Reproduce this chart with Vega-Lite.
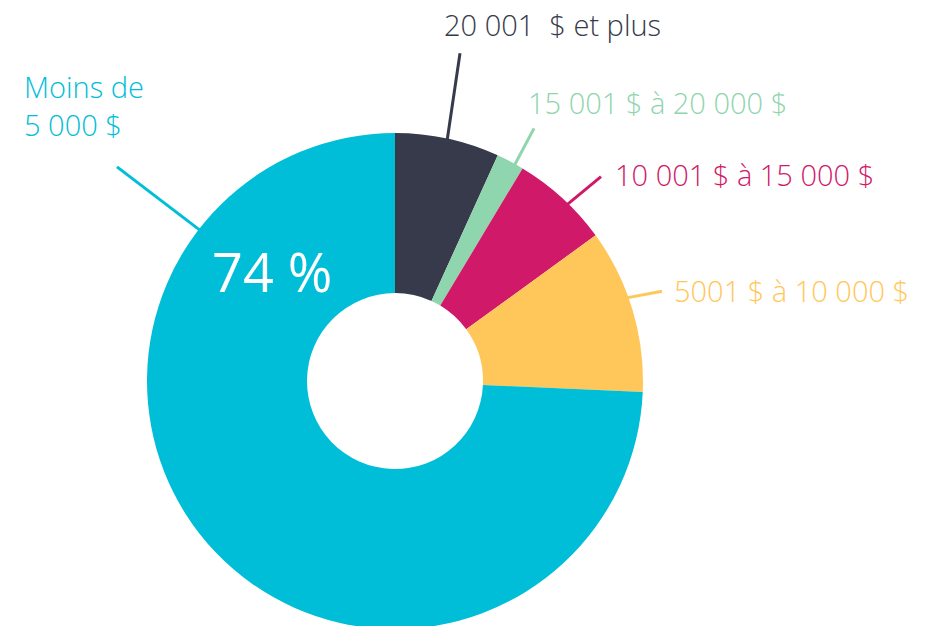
{
  "$schema": "https://vega.github.io/schema/vega-lite/v6.json",
  "width": 932,
  "height": 626,
  "autosize": {"type": "fit", "contains": "padding"},
  "padding": 0,
  "background": "white",
  "config": {"view": {"stroke": null}},
  "datasets": {
    "slices": [
      {"cat": "20 001 $ et plus", "value": 6.8, "ord": 1},
      {"cat": "15 001 $ à 20 000 $", "value": 1.8, "ord": 2},
      {"cat": "10 001 $ à 15 000 $", "value": 6.4, "ord": 3},
      {"cat": "5001 $ à 10 000 $", "value": 10.7, "ord": 4},
      {"cat": "Moins de 5 000 $", "value": 74.3, "ord": 5}
    ],
    "labels": [
      {"cat": "20 001 $ et plus", "label": "20 001\u00a0 $ et plus", "lx": 49, "ly": 350},
      {"cat": "15 001 $ à 20 000 $", "label": "15 001 $ à 20 000 $", "lx": 133, "ly": 271},
      {"cat": "10 001 $ à 15 000 $", "label": "10 001 $ à 15 000 $", "lx": 220, "ly": 198},
      {"cat": "5001 $ à 10 000 $", "label": "5001 $ à 10 000 $", "lx": 279, "ly": 80},
      {"cat": "Moins de 5 000 $", "label": "Moins de|5 000 $", "lx": -371, "ly": 287}
    ],
    "leaders": [
      {"cat": "20 001 $ et plus", "x1": 65, "y1": 332, "x2": 51, "y2": 236},
      {"cat": "15 001 $ à 20 000 $", "x1": 139, "y1": 256, "x2": 116, "y2": 212},
      {"cat": "10 001 $ à 15 000 $", "x1": 206, "y1": 207, "x2": 170, "y2": 177},
      {"cat": "5001 $ à 10 000 $", "x1": 267, "y1": 91, "x2": 225, "y2": 83},
      {"cat": "Moins de 5 000 $", "x1": -278, "y1": 217, "x2": -185, "y2": 145}
    ],
    "center": [
      {"cat": "Moins de 5 000 $", "label": "74 %", "lx": -183, "ly": 90}
    ]
  },
  "layer": [
    {
      "data": {"name": "slices"},
      "mark": {"type": "arc", "outerRadius": 248, "innerRadius": 88, "stroke": null},
      "encoding": {
        "theta": {"field": "value", "type": "quantitative", "stack": true},
        "order": {"field": "ord", "type": "quantitative"},
        "color": {
          "field": "cat", "type": "nominal", "legend": null,
          "scale": {
            "domain": ["20 001 $ et plus", "15 001 $ à 20 000 $", "10 001 $ à 15 000 $", "5001 $ à 10 000 $", "Moins de 5 000 $"],
            "range": ["#363a4a", "#8fd5ad", "#d1196a", "#ffc75a", "#00bed8"]
          }
        },
        "x": {"datum": 0, "type": "quantitative", "scale": {"domain": [-395, 537], "nice": false, "zero": false}, "axis": null},
        "y": {"datum": 0, "type": "quantitative", "scale": {"domain": [-240, 386], "nice": false, "zero": false}, "axis": null}
      }
    },
    {
      "data": {"name": "leaders"},
      "mark": {"type": "rule", "strokeWidth": 3},
      "encoding": {
        "x": {"field": "x1", "type": "quantitative", "scale": {"domain": [-395, 537], "nice": false, "zero": false}, "axis": null},
        "y": {"field": "y1", "type": "quantitative", "scale": {"domain": [-240, 386], "nice": false, "zero": false}, "axis": null},
        "x2": {"field": "x2"},
        "y2": {"field": "y2"},
        "color": {"field": "cat", "type": "nominal", "legend": null}
      }
    },
    {
      "data": {"name": "labels"},
      "mark": {"type": "text", "align": "left", "baseline": "alphabetic", "font": "Open Sans", "fontWeight": 300, "fontSize": 29, "lineBreak": "|", "lineHeight": 38},
      "encoding": {
        "x": {"field": "lx", "type": "quantitative", "axis": null},
        "y": {"field": "ly", "type": "quantitative", "axis": null},
        "text": {"field": "label"},
        "color": {"field": "cat", "type": "nominal", "legend": null}
      }
    },
    {
      "data": {"name": "center"},
      "mark": {"type": "text", "align": "left", "baseline": "alphabetic", "font": "Open Sans", "fontWeight": 400, "fontSize": 54, "color": "white"},
      "encoding": {
        "x": {"field": "lx", "type": "quantitative", "axis": null},
        "y": {"field": "ly", "type": "quantitative", "axis": null},
        "text": {"field": "label"}
      }
    }
  ]
}
